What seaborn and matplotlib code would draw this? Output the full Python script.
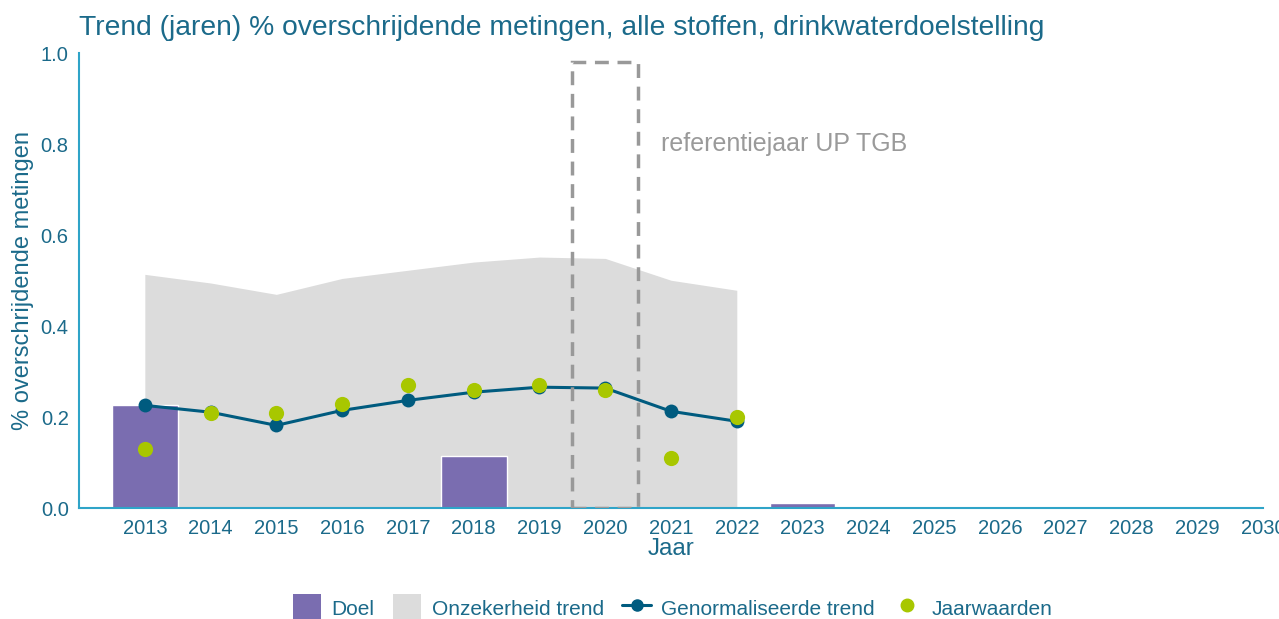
import matplotlib
matplotlib.use("Agg")
import matplotlib.pyplot as plt
import seaborn as sns
import pandas as pd
from matplotlib.patches import Patch, Rectangle
from matplotlib.lines import Line2D

# data
jaren = [2013, 2014, 2015, 2016, 2017, 2018, 2019, 2020, 2021, 2022]
trend = [0.226, 0.211, 0.182, 0.215, 0.237, 0.255, 0.266, 0.264, 0.213, 0.191]
onzeker_boven = [0.514, 0.495, 0.470, 0.505, 0.523, 0.541, 0.552, 0.549, 0.501, 0.479]
onzeker_onder = [0, 0, 0, 0, 0, 0, 0, 0, 0, 0]
jaarwaarden = [0.13, 0.21, 0.21, 0.23, 0.27, 0.26, 0.27, 0.26, 0.11, 0.20]

doel_jaren = [2013, 2018, 2023]
doel = [0.226, 0.114, 0.011]

ref_jaar = 2020
ref_hoogte = 0.98

x_ticks = list(range(2013, 2031))

teal = "#1b6a8a"
lijn = "#005b7f"
groen = "#a8c700"
paars = "#7a6db0"
grijs = "#dcdcdc"
as_kleur = "#2fa4c8"

sns.set_style("white")
plt.rcParams["font.family"] = ["Liberation Sans", "DejaVu Sans"]

df = pd.DataFrame({"jaar": jaren, "trend": trend, "jaarwaarde": jaarwaarden})

fig = plt.figure(figsize=(12.79, 6.19), dpi=100)
ax = fig.add_axes([0.0618, 0.179, 0.9257, 0.735])

ax.fill_between(jaren, onzeker_onder, onzeker_boven, color=grijs, linewidth=0, zorder=1)
ax.bar(doel_jaren, doel, width=1.0, color=paars, zorder=2)

sns.lineplot(data=df, x="jaar", y="trend", color=lijn, linewidth=2.2,
             marker="o", markersize=10, markeredgewidth=0, ax=ax, zorder=3)
sns.scatterplot(data=df, x="jaar", y="jaarwaarde", color=groen, s=120,
                linewidth=0, ax=ax, zorder=4)

ax.add_patch(Rectangle((ref_jaar - 0.5, 0), 1.0, ref_hoogte, fill=False,
                       edgecolor="#999999", linestyle=(0, (4, 2.5)),
                       linewidth=2.5, zorder=5))
ax.text(ref_jaar + 0.85, 0.80, "referentiejaar UP TGB", color="#9a9a9a",
        fontsize=18, va="center", ha="left")

ax.set_xlim(2012, 2030)
ax.set_ylim(0, 1.0)
ax.set_xticks(x_ticks)
ax.set_xticklabels([str(j) for j in x_ticks])
ax.set_yticks([0.0, 0.2, 0.4, 0.6, 0.8, 1.0])
ax.set_yticklabels(["0.0", "0.2", "0.4", "0.6", "0.8", "1.0"])
ax.tick_params(axis="both", colors="#444444", labelcolor=teal, labelsize=14.5,
               length=4, width=1.2, direction="out")

for s in ["top", "right"]:
    ax.spines[s].set_visible(False)
for s in ["left", "bottom"]:
    ax.spines[s].set_color(as_kleur)
    ax.spines[s].set_linewidth(1.5)

ax.set_xlabel("Jaar", color=teal, fontsize=17.5, labelpad=0)
ax.set_ylabel("% overschrijdende metingen", color=teal, fontsize=17, labelpad=5)
fig.text(0.062, 0.955, "Trend (jaren) % overschrijdende metingen, alle stoffen, drinkwaterdoelstelling",
         color=teal, fontsize=20.3, ha="left", va="center")

handles = [
    Patch(facecolor=paars, edgecolor="none"),
    Patch(facecolor=grijs, edgecolor="none"),
    Line2D([0], [0], color=lijn, linewidth=2.2, marker="o", markersize=8),
    Line2D([0], [0], color=groen, linewidth=0, marker="o", markersize=9),
]
labels = ["Doel", "Onzekerheid trend", "Genormaliseerde trend", "Jaarwaarden"]
fig.legend(handles, labels, loc="center", bbox_to_anchor=(0.526, 0.018),
           ncol=4, frameon=False, fontsize=15, labelcolor=teal,
           handlelength=1.35, handleheight=1.6, columnspacing=0.9, handletextpad=0.5)

fig.savefig("out.png", dpi=100)
